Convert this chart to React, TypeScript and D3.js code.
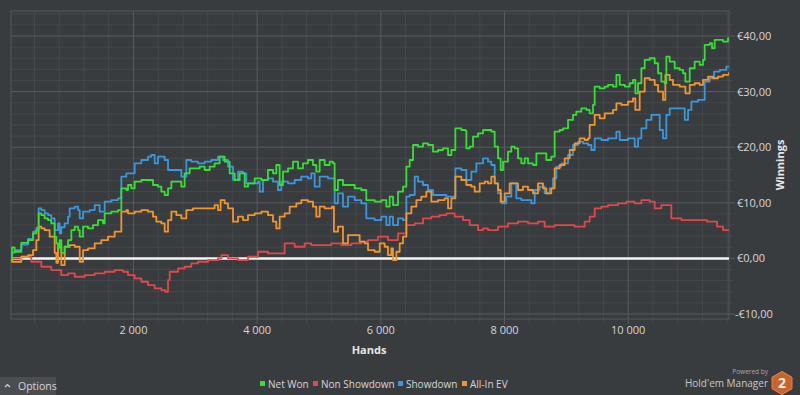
import React from 'react';
import * as d3 from 'd3';

type Pt = [number, number];

// [hands, euros]
const netWon: Pt[] = [
  [20, 0], [36, 2.0], [79, 1.2], [187, 2.8], [295, 3.3], [376, 4.5], [430, 5.1], [467, 8.1], [511, 7.8], [564, 7.2],
  [618, 6.9], [672, 6.3], [726, 3.9], [753, 2.7], [780, 1.9], [807, 3.3], [834, 1.0], [888, 2.1], [942, 3.3], [996, 5.1],
  [1050, 5.7], [1104, 5.1], [1131, 3.9], [1185, 5.7], [1266, 5.4], [1346, 6.0], [1427, 6.9], [1508, 6.3], [1535, 8.1], [1643, 8.4],
  [1751, 8.7], [1793, 8.7], [1804, 12.6], [1885, 12.3], [1912, 13.2], [1966, 12.6], [2020, 13.8], [2128, 14.1], [2235, 14.1], [2316, 13.2],
  [2397, 12.9], [2451, 12.0], [2505, 11.4], [2559, 12.6], [2613, 13.8], [2694, 13.8], [2774, 12.9], [2828, 15.3], [2909, 16.2], [2990, 16.2],
  [3071, 16.5], [3152, 15.9], [3233, 16.5], [3313, 17.1], [3394, 18.3], [3475, 17.4], [3556, 15.3], [3637, 14.1], [3718, 15.3], [3799, 12.9],
  [3852, 13.5], [3960, 14.4], [4068, 14.1], [4175, 15.9], [4256, 15.3], [4310, 16.8], [4364, 13.2], [4418, 15.6], [4499, 16.2], [4580, 17.4],
  [4661, 16.2], [4741, 17.1], [4822, 17.7], [4903, 16.8], [4957, 15.6], [5011, 17.7], [5092, 16.8], [5173, 17.4], [5226, 17.1], [5253, 12.3],
  [5307, 14.1], [5388, 13.2], [5469, 13.2], [5577, 12.6], [5685, 12.3], [5765, 10.5], [5793, 10.5], [5901, 10.2], [6009, 10.5], [6089, 9.3],
  [6143, 11.1], [6197, 9.6], [6278, 12.0], [6359, 12.9], [6413, 16.5], [6467, 17.7], [6521, 20.4], [6602, 20.1], [6682, 20.7], [6763, 20.4],
  [6844, 19.2], [6925, 19.5], [7006, 19.8], [7087, 18.6], [7141, 19.5], [7184, 19.5], [7205, 23.4], [7302, 23.1], [7367, 23.0], [7383, 19.8],
  [7437, 20.1], [7491, 21.9], [7572, 22.5], [7653, 23.1], [7733, 23.1], [7787, 22.8], [7841, 20.1], [7895, 18.0], [7938, 15.9], [7976, 17.4],
  [8056, 19.2], [8110, 20.1], [8164, 19.8], [8218, 18.0], [8272, 17.1], [8326, 18.0], [8380, 17.1], [8461, 16.8], [8515, 18.9], [8595, 18.9],
  [8676, 17.7], [8757, 18.3], [8811, 22.8], [8892, 23.1], [8946, 23.4], [9027, 24.9], [9107, 25.8], [9161, 26.4], [9242, 27.0], [9323, 26.7],
  [9377, 26.1], [9431, 27.6], [9458, 30.9], [9539, 30.6], [9620, 30.9], [9674, 31.2], [9755, 30.9], [9809, 33.0], [9863, 31.2], [9944, 30.9],
  [10024, 31.5], [10078, 32.1], [10116, 29.7], [10159, 31.5], [10213, 34.2], [10267, 35.7], [10348, 36.0], [10429, 35.1], [10483, 33.3], [10536, 31.8],
  [10590, 31.5], [10617, 36.3], [10671, 35.4], [10752, 34.2], [10833, 33.9], [10887, 33.3], [10925, 31.8], [10995, 34.2], [11075, 35.4], [11156, 34.8],
  [11210, 35.7], [11237, 38.4], [11318, 38.7], [11356, 37.8], [11399, 39.3], [11480, 39.3], [11534, 39.0], [11614, 39.6], [11630, 39.6],
];

const nonShowdown: Pt[] = [
  [20, 0], [187, 0.3], [349, -0.6], [511, -1.5], [672, -2.1], [834, -3.0], [942, -2.7], [1050, -3.3], [1211, -3.0], [1373, -2.7],
  [1535, -2.4], [1696, -2.1], [1831, -2.4], [1912, -3.0], [2020, -3.6], [2128, -4.2], [2235, -4.8], [2343, -5.4], [2451, -5.7], [2516, -6.0],
  [2559, -3.9], [2586, -2.4], [2721, -1.8], [2828, -1.5], [2936, -0.9], [3044, -0.6], [3206, -0.3], [3367, 0], [3421, 0.6], [3529, 0],
  [3691, -0.3], [3852, 0.3], [4014, 1.2], [4175, 0.9], [4337, 0.9], [4445, 2.7], [4607, 2.1], [4768, 2.7], [4876, 2.4], [5038, 2.4],
  [5200, 2.7], [5361, 2.4], [5523, 2.7], [5685, 3.0], [5793, 3.3], [5955, 3.9], [6116, 3.3], [6278, 4.5], [6413, 6.0], [6548, 6.3],
  [6682, 7.2], [6817, 7.5], [6952, 7.8], [7060, 8.1], [7194, 7.5], [7329, 6.9], [7437, 6.0], [7572, 5.1], [7653, 5.4], [7733, 5.1],
  [7895, 5.7], [8056, 6.3], [8218, 6.6], [8380, 6.3], [8542, 6.6], [8649, 5.7], [8811, 6.0], [8973, 6.0], [9134, 5.7], [9296, 6.6],
  [9377, 7.5], [9458, 9.0], [9566, 9.3], [9674, 9.6], [9836, 9.9], [9970, 10.2], [10105, 9.9], [10213, 10.5], [10348, 10.2], [10429, 9.0],
  [10536, 9.6], [10617, 9.6], [10698, 7.2], [10860, 6.9], [11048, 6.9], [11274, 6.6], [11436, 5.7], [11533, 5.1], [11630, 5.2],
];

const showdown: Pt[] = [
  [20, 0], [36, 1.0], [79, 1.5], [187, 2.5], [295, 3.5], [376, 4.8], [430, 5.5], [467, 9.0], [511, 8.7], [564, 8.1],
  [618, 7.8], [672, 7.2], [726, 5.1], [780, 6.3], [807, 4.5], [834, 5.6], [888, 6.3], [942, 7.5], [969, 9.0], [1050, 9.3],
  [1104, 8.7], [1131, 7.2], [1185, 8.4], [1292, 8.7], [1373, 9.6], [1454, 8.4], [1535, 10.2], [1643, 10.5], [1751, 10.8], [1793, 10.8],
  [1804, 14.7], [1885, 15.3], [1912, 15.3], [2020, 17.1], [2128, 17.7], [2235, 18.3], [2289, 18.6], [2343, 17.1], [2397, 18.3], [2505, 17.7],
  [2559, 15.9], [2667, 15.9], [2774, 14.7], [2855, 17.7], [2936, 17.4], [3044, 17.1], [3152, 17.4], [3260, 17.7], [3367, 18.3], [3448, 17.7],
  [3529, 16.5], [3610, 14.1], [3691, 15.6], [3772, 15.3], [3825, 13.5], [3852, 13.5], [4014, 13.8], [4041, 12.0], [4095, 14.1], [4175, 14.4],
  [4256, 13.8], [4337, 12.3], [4391, 13.8], [4499, 13.5], [4607, 14.1], [4714, 14.7], [4822, 14.4], [4876, 15.3], [4930, 12.9], [5011, 14.7],
  [5146, 14.4], [5226, 14.4], [5253, 9.9], [5307, 11.7], [5388, 9.3], [5469, 11.1], [5577, 10.5], [5685, 9.9], [5765, 7.2], [5793, 7.2],
  [5901, 6.9], [6009, 7.5], [6089, 6.0], [6143, 7.5], [6197, 6.0], [6278, 7.2], [6359, 6.9], [6413, 11.1], [6467, 11.4], [6548, 14.7],
  [6602, 13.8], [6682, 13.2], [6763, 12.3], [6844, 11.4], [6952, 11.4], [7060, 11.1], [7184, 11.1], [7205, 16.2], [7302, 15.9], [7383, 14.1],
  [7464, 15.6], [7545, 17.1], [7653, 18.0], [7733, 17.4], [7787, 16.8], [7841, 13.5], [7895, 11.7], [7949, 9.9], [8029, 11.1], [8110, 13.5],
  [8191, 10.8], [8272, 10.5], [8380, 10.5], [8434, 9.9], [8488, 12.3], [8568, 12.9], [8649, 11.7], [8730, 12.6], [8784, 14.4], [8838, 16.5],
  [8919, 17.1], [9027, 18.6], [9107, 20.4], [9188, 21.0], [9269, 20.7], [9350, 20.4], [9404, 19.5], [9458, 21.6], [9566, 21.3], [9674, 21.6],
  [9755, 21.6], [9809, 22.8], [9863, 21.3], [9997, 21.6], [10105, 20.1], [10159, 21.6], [10213, 23.4], [10294, 24.9], [10375, 25.8], [10456, 25.8],
  [10510, 23.1], [10563, 21.6], [10617, 25.8], [10671, 27.0], [10860, 27.0], [10914, 24.9], [10968, 26.7], [11022, 28.2], [11129, 28.5], [11210, 28.5],
  [11237, 31.8], [11318, 32.4], [11388, 33.6], [11480, 33.9], [11534, 33.9], [11587, 34.5], [11630, 34.6],
];

const allInEv: Pt[] = [
  [20, 0], [36, -0.6], [79, -0.6], [187, 0.3], [295, 0.6], [376, 1.5], [430, 3.3], [467, 5.7], [511, 5.4], [564, 5.1],
  [645, 3.9], [726, 1.0], [753, -0.8], [780, 2.4], [834, -1.2], [888, 2.1], [969, 2.4], [1050, 2.1], [1131, -0.6], [1185, 1.5],
  [1266, 1.8], [1373, 2.7], [1481, 3.3], [1589, 3.9], [1696, 4.8], [1793, 4.8], [1804, 8.4], [1885, 8.7], [1912, 8.1], [2020, 8.4],
  [2128, 8.7], [2235, 8.4], [2316, 7.5], [2370, 6.6], [2451, 6.3], [2505, 4.8], [2559, 6.9], [2613, 8.4], [2694, 7.8], [2774, 7.2],
  [2855, 8.7], [2963, 9.0], [3071, 9.0], [3206, 9.0], [3313, 9.6], [3367, 8.7], [3410, 10.5], [3475, 9.9], [3529, 9.0], [3610, 6.6],
  [3691, 7.5], [3772, 6.9], [3852, 7.8], [3960, 8.1], [4068, 8.4], [4175, 7.8], [4256, 6.6], [4310, 5.4], [4364, 7.5], [4445, 8.1],
  [4526, 9.3], [4634, 9.9], [4714, 10.5], [4822, 10.2], [4903, 9.3], [4957, 7.5], [5011, 9.3], [5092, 9.0], [5210, 9.3], [5242, 4.8],
  [5307, 5.7], [5388, 2.7], [5469, 4.2], [5577, 4.2], [5658, 3.0], [5739, 2.7], [5793, 1.5], [5901, 1.2], [5982, 2.7], [6062, 2.1],
  [6116, 0.6], [6170, 1.8], [6197, -0.3], [6251, 1.2], [6305, 2.7], [6359, 3.9], [6413, 8.1], [6494, 9.3], [6575, 10.5], [6655, 11.1],
  [6736, 12.0], [6817, 10.2], [6925, 10.5], [7033, 10.8], [7087, 9.0], [7141, 10.8], [7205, 14.7], [7302, 14.1], [7383, 13.2], [7464, 12.9],
  [7518, 12.0], [7599, 13.5], [7680, 13.8], [7733, 13.5], [7787, 14.7], [7841, 13.5], [7895, 12.3], [7938, 10.2], [8003, 11.7], [8083, 13.5],
  [8164, 13.5], [8218, 12.3], [8299, 12.9], [8380, 12.3], [8461, 11.7], [8542, 13.5], [8622, 12.6], [8676, 11.7], [8757, 12.6], [8811, 16.2],
  [8892, 16.8], [8973, 18.0], [9054, 19.5], [9134, 20.7], [9215, 21.6], [9296, 21.3], [9350, 21.6], [9377, 24.0], [9458, 25.8], [9539, 25.2],
  [9620, 26.1], [9674, 26.1], [9755, 26.7], [9809, 27.9], [9890, 27.6], [9997, 28.2], [10078, 28.8], [10116, 26.7], [10186, 30.0], [10267, 32.4],
  [10348, 32.1], [10429, 31.2], [10483, 30.0], [10563, 28.5], [10601, 33.0], [10671, 32.1], [10725, 31.2], [10833, 30.9], [10903, 30.9], [10925, 29.7],
  [10995, 31.2], [11075, 31.5], [11156, 31.2], [11210, 32.1], [11291, 32.7], [11372, 32.4], [11453, 32.7], [11534, 33.0], [11630, 33.5],
];

const xMajorTicks = [2000, 4000, 6000, 8000, 10000];
const yMajorTicks = [-10, 0, 10, 20, 30, 40];
const legendNames = ['Net Won', 'Non Showdown', 'Showdown', 'All-In EV'];

const W = 800;
const H = 395;
const FONT = '"Open Sans", "Noto Sans", sans-serif';

const App: React.FC = () => {
  const left = 11, right = 729, top = 11, bottom = 319;
  const x = d3.scaleLinear().domain([20, 11630]).range([left, right]);
  const y = d3.scaleLinear().domain([-10.9, 44.5]).range([bottom, top]);

  const line = d3.line<Pt>().x(d => x(d[0])).y(d => y(d[1])).curve(d3.curveStepAfter);

  const xMinor = d3.range(400, 11630, 400);
  const yMinor = d3.range(-10, 44.5, 2);

  const series = [
    { name: 'Non Showdown', data: nonShowdown, color: '#e2474b' },
    { name: 'Showdown', data: showdown, color: '#3b97dc' },
    { name: 'All-In EV', data: allInEv, color: '#f2962c' },
    { name: 'Net Won', data: netWon, color: '#35e035' },
  ];
  const colorOf = (n: string) => series.find(s => s.name === n)!.color;

  const euro = (v: number) => (v < 0 ? '-' : '') + '€' + Math.abs(v).toFixed(2).replace('.', ',');
  const handsFmt = (v: number) => d3.format(',')(v).replace(',', ' ');

  // legend layout (square x positions)
  const legendX = [260, 313, 398, 462];

  // hexagon for logo
  const hexR = 11.5;
  const hexCx = 782, hexCy = 383;
  const hex = d3.range(6).map(i => {
    const a = Math.PI / 3 * i - Math.PI / 2;
    return [hexCx + hexR * Math.cos(a), hexCy + hexR * Math.sin(a)];
  });

  return (
    <svg width={W} height={H} style={{ position: 'absolute', left: 0, top: 0, fontFamily: FONT }}>
      <rect width={W} height={H} fill="#393c3f" />
      <defs>
        <clipPath id="plot">
          <rect x={left} y={top - 2} width={right - left} height={bottom - top + 2} />
        </clipPath>
      </defs>

      {/* minor grid */}
      {xMinor.filter(v => v % 2000 !== 0).map(v => (
        <line key={'xm' + v} x1={x(v)} x2={x(v)} y1={top} y2={bottom + 4} stroke="#45484c" strokeWidth={1} />
      ))}
      {yMinor.filter(v => v % 10 !== 0).map(v => (
        <line key={'ym' + v} x1={left} x2={right + 4} y1={y(v)} y2={y(v)} stroke="#45484c" strokeWidth={1} />
      ))}
      {/* major grid */}
      {xMajorTicks.map(v => (
        <line key={'xM' + v} x1={x(v)} x2={x(v)} y1={top} y2={bottom + 5} stroke="#585b5f" strokeWidth={1} />
      ))}
      {yMajorTicks.map(v => (
        <line key={'yM' + v} x1={left} x2={right + 6} y1={y(v)} y2={y(v)} stroke="#585b5f" strokeWidth={1} />
      ))}
      <rect x={left} y={top} width={right - left} height={bottom - top} fill="none" stroke="#55585c" strokeWidth={1} />

      {/* zero line */}
      <line x1={left} x2={right} y1={y(0)} y2={y(0)} stroke="#f4f4f4" strokeWidth={2.5} />

      <g clipPath="url(#plot)">
        {series.map(s => (
          <path key={s.name} d={line(s.data) || ''} fill="none" stroke={s.color} strokeWidth={1.8} strokeLinejoin="round" />
        ))}
      </g>

      {/* y tick labels */}
      {yMajorTicks.map(v => (
        <text key={'yl' + v} x={v < 0 ? 735 : 737} y={y(v) + 4} fontSize={11} fill="#d6d6d6">{euro(v)}</text>
      ))}
      <text transform={`translate(784,165) rotate(-90)`} textAnchor="middle" fontSize={11} fontWeight="bold" fill="#e6e6e6">Winnings</text>

      {/* x tick labels */}
      {xMajorTicks.map(v => (
        <text key={'xl' + v} x={x(v)} y={334} textAnchor="middle" fontSize={11} fill="#d6d6d6">{handsFmt(v)}</text>
      ))}
      <text x={369} y={354} textAnchor="middle" fontSize={11} fontWeight="bold" fill="#e6e6e6">Hands</text>

      {/* legend */}
      {legendNames.map((n, i) => (
        <g key={n}>
          <rect x={legendX[i]} y={381} width={5} height={5} fill={colorOf(n)} />
          <text x={legendX[i] + 8} y={387.5} fontSize={10} fill="#d6d6d6">{n}</text>
        </g>
      ))}

      {/* options button */}
      <rect x={0} y={377} width={56} height={18} fill="#4a4d51" />
      <path d="M5,387 L7.5,384.5 L10,387" fill="none" stroke="#d6d6d6" strokeWidth={1.2} />
      <text x={18} y={390} fontSize={10.5} fill="#d6d6d6">Options</text>

      {/* logo */}
      <text x={768} y={374} textAnchor="end" fontSize={6.5} fill="#a8a8a8">Powered by</text>
      <text x={768} y={387} textAnchor="end" fontSize={10} fill="#c8c8c8">Hold'em Manager</text>
      <polygon points={hex.map(p => p.join(',')).join(' ')} fill="#c9632a" stroke="#e48a4e" strokeWidth={1} />
      <text x={hexCx} y={hexCy + 5} textAnchor="middle" fontSize={14} fontWeight="bold" fill="#f4f4f4">2</text>
    </svg>
  );
};

export default App;
